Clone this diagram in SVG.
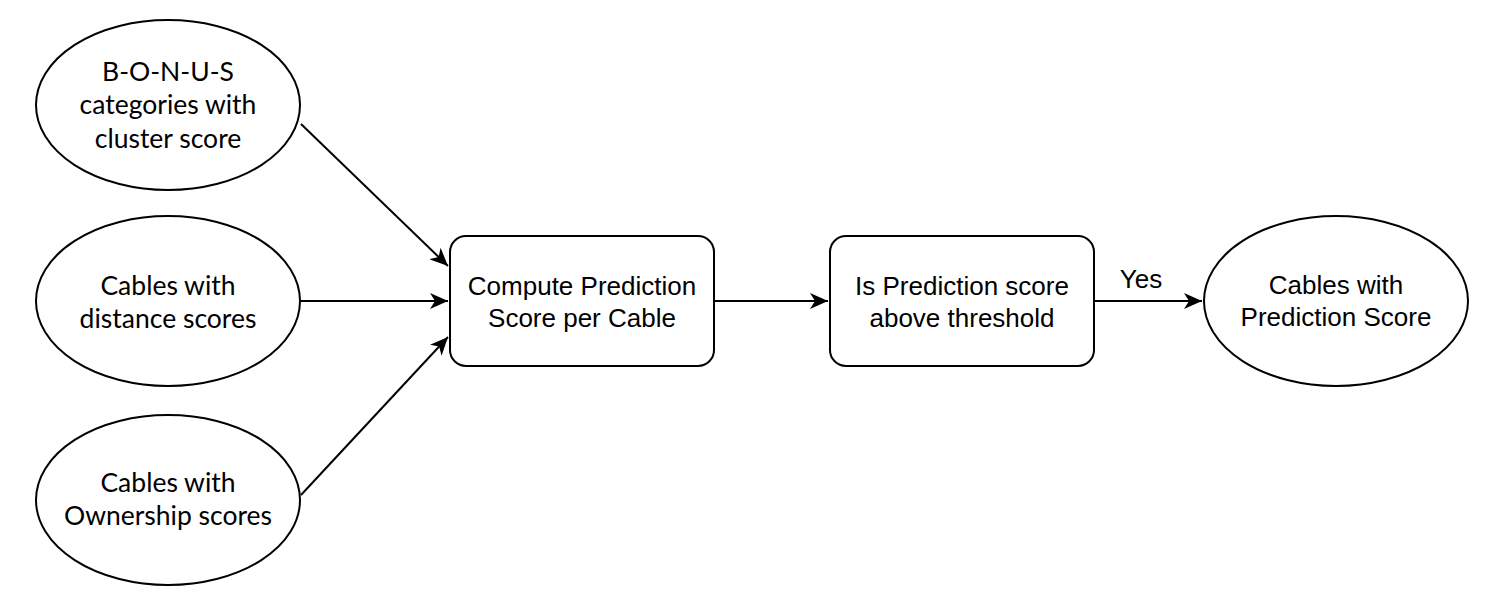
<svg xmlns="http://www.w3.org/2000/svg" width="1488" height="608" viewBox="0 0 1488 608">
<style>
.shape{fill:#fff;stroke:#000;stroke-width:2}
.edge{fill:none;stroke:#000;stroke-width:2}
.gs{font-family:"Lato","Open Sans","Liberation Sans",sans-serif;font-size:26.5px;fill:#000;text-anchor:middle}
.hv{font-family:"Liberation Sans","Arial",sans-serif;font-size:26px;fill:#000;text-anchor:middle}
</style>
<defs>
<marker id="arr" viewBox="0 0 20 16" refX="18" refY="8" markerWidth="20" markerHeight="16" markerUnits="userSpaceOnUse" orient="auto">
<path d="M0,0 L18,8 L0,16 L5,8 Z" fill="#000"/>
</marker>
</defs>
<rect width="1488" height="608" fill="#fff"/>
<g id="connectors">
<line class="edge" x1="301" y1="124" x2="448" y2="266" marker-end="url(#arr)"/>
<line class="edge" x1="301" y1="301" x2="448" y2="301" marker-end="url(#arr)"/>
<line class="edge" x1="301" y1="495" x2="448" y2="337" marker-end="url(#arr)"/>
<line class="edge" x1="714" y1="301" x2="828" y2="301" marker-end="url(#arr)"/>
<line class="edge" x1="1094" y1="301" x2="1202" y2="301" marker-end="url(#arr)"/>
<text class="hv" x="1141" y="288">Yes</text>
</g>
<g id="n1">
<ellipse class="shape" cx="168" cy="105" rx="132" ry="85"/>
<text class="gs" x="168" y="81">B-O-N-U-S</text>
<text class="gs" x="168" y="114">categories with</text>
<text class="gs" x="168" y="148">cluster score</text>
</g>
<g id="n2">
<ellipse class="shape" cx="168" cy="301" rx="132" ry="85"/>
<text class="gs" x="168" y="295">Cables with</text>
<text class="gs" x="168" y="328">distance scores</text>
</g>
<g id="n3">
<ellipse class="shape" cx="168" cy="500" rx="132" ry="85"/>
<text class="gs" x="168" y="492">Cables with</text>
<text class="gs" x="168" y="525">Ownership scores</text>
</g>
<g id="n4">
<rect class="shape" x="450" y="236" width="264" height="130" rx="16"/>
<text class="hv" x="582" y="295">Compute Prediction</text>
<text class="hv" x="582" y="327">Score per Cable</text>
</g>
<g id="n5">
<rect class="shape" x="830" y="236" width="264" height="130" rx="16"/>
<text class="hv" x="962" y="295">Is Prediction score</text>
<text class="hv" x="962" y="327">above threshold</text>
</g>
<g id="n6">
<ellipse class="shape" cx="1336" cy="301" rx="132" ry="85"/>
<text class="hv" x="1336" y="294">Cables with</text>
<text class="hv" x="1336" y="326">Prediction Score</text>
</g>
</svg>
